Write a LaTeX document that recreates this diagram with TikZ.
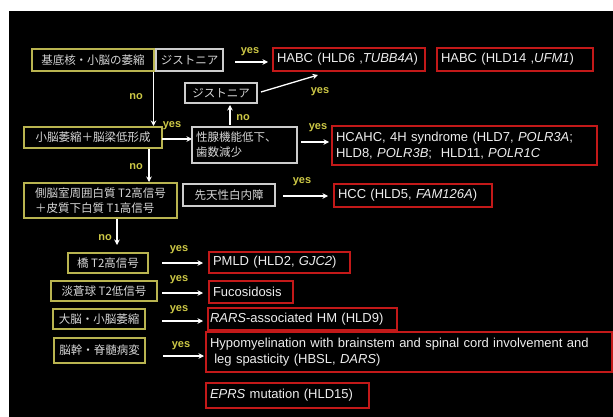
\documentclass[tikz,border=0pt]{standalone}
\usepackage{fontspec}
\setmainfont{Liberation Sans}
\newfontfamily\jp{Noto Sans CJK JP}
\usetikzlibrary{arrows.meta,calc}
\definecolor{yel}{RGB}{185,180,80}
\definecolor{gry}{RGB}{205,205,205}
\definecolor{rd}{RGB}{195,25,25}
\definecolor{lbl}{RGB}{205,200,70}
\definecolor{txt}{RGB}{238,238,238}
\definecolor{jtxt}{RGB}{215,215,215}
\begin{document}
\begin{tikzpicture}[x=1pt,y=-1pt,
  base/.style={draw, line width=1.4pt, anchor=north west, inner xsep=4pt, inner ysep=0pt, outer sep=0pt},
  ybox/.style={base, draw=yel, text=jtxt, font=\jp\fontsize{11.5}{15}\selectfont, align=center},
  gbox/.style={base, draw=gry, text=jtxt, font=\jp\fontsize{11.5}{15}\selectfont, align=center},
  rbox/.style={base, draw=rd, text=txt, font=\fontsize{13}{16.5}\selectfont, align=left, inner xsep=4pt},
  lab/.style={text=lbl, font=\bfseries\fontsize{11}{12}\selectfont, inner sep=0pt},
  arr/.style={draw=white, line width=1.3pt, -{Stealth[length=5.5pt,width=5.5pt]}}]
\useasboundingbox (0,0) rectangle (613,417);
\fill[white] (0,0) rectangle (613,417);
\fill[black] (9,11) rectangle (613,417);

% yellow condition boxes
\node[ybox, minimum width=122pt, minimum height=22pt] (b1) at (32,49) {基底核・小脳の萎縮};
\node[ybox, minimum width=138pt, minimum height=21pt] (b2) at (24,127) {小脳萎縮＋脳梁低形成};
\node[ybox, minimum width=153pt, minimum height=35pt, align=left] (b3) at (24,183) {側脳室周囲白質 T2高信号\\＋皮質下白質 T1高信号};
\node[ybox, minimum width=80pt, minimum height=20pt] (b4) at (68,253) {橋 T2高信号};
\node[ybox, minimum width=106pt, minimum height=20pt] (b5) at (51,281) {淡蒼球 T2低信号};
\node[ybox, minimum width=92pt, minimum height=20pt] (b6) at (53,309) {大脳・小脳萎縮};
\node[ybox, minimum width=91pt, minimum height=25pt] (b7) at (54,338) {脳幹・脊髄病変};

% gray boxes
\node[gbox, minimum width=67pt, minimum height=22pt] (g1) at (156,49) {ジストニア};
\node[gbox, minimum width=72pt, minimum height=20pt] (g2) at (185,83) {ジストニア};
\node[gbox, minimum width=105pt, minimum height=36pt, align=left, text width=97pt] (g3) at (192,127) {性腺機能低下、\\歯数減少};
\node[gbox, minimum width=92pt, minimum height=22pt] (g4) at (183,184) {先天性白内障};

% red result boxes
\node[rbox, text width=144pt, minimum height=23pt] (r1) at (273,48) {HABC (HLD6 ,\textit{TUBB4A})};
\node[rbox, text width=148pt, minimum height=23pt] (r2) at (437,48) {HABC (HLD14 ,\textit{UFM1})};
\node[rbox, text width=257pt, minimum height=39pt] (r3) at (332,126) {HCAHC, 4H syndrome (HLD7, \textit{POLR3A};\\HLD8, \textit{POLR3B};\ \ HLD11, \textit{POLR1C}};
\node[rbox, text width=150pt, minimum height=23pt] (r4) at (334,184) {HCC (HLD5, \textit{FAM126A})};
\node[rbox, text width=133pt, minimum height=21pt] (r5) at (209,252) {PMLD (HLD2, \textit{GJC2})};
\node[rbox, text width=76pt, minimum height=22pt] (r6) at (209,281) {Fucosidosis};
\node[rbox, text width=185pt, minimum height=22pt, inner xsep=2pt] (r7) at (208,308) {\textit{RARS}-associated HM (HLD9)};
\node[rbox, text width=398pt, minimum height=40pt] (r8) at (206,332) {Hypomyelination with brainstem and spinal cord involvement and\\\ leg spasticity (HBSL, \textit{DARS})};
\node[rbox, text width=155pt, minimum height=25pt] (r9) at (206,383) {\textit{EPRS} mutation (HLD15)};

% free connector ends
\coordinate (a1s) at (235,62);   \coordinate (a1e) at (268,62);
\coordinate (a2s) at (261,92);   \coordinate (a2e) at (318,75);
\coordinate (a3x) at (230,0);
\coordinate (a4x) at (153.5,0);
\coordinate (a6s) at (301,142);  \coordinate (a6e) at (329,142);
\coordinate (a7x) at (149,0);
\coordinate (a8s) at (283,196);  \coordinate (a8e) at (328,196);
\coordinate (a9x) at (117,0);    \coordinate (a9e) at (117,245);
\coordinate (a10s) at (162,263); \coordinate (a10e) at (203,263);
\coordinate (a11s) at (162,293); \coordinate (a11e) at (203,293);
\coordinate (a12s) at (162,321); \coordinate (a12e) at (203,321);
\coordinate (a13s) at (163,356); \coordinate (a13e) at (204,356);

% connectors
\draw[arr] (a1s) -- (a1e);
\draw[arr] (a2s) -- (a2e);
\draw[arr] ([yshift=2pt]g3.north -| a3x) -- ([yshift=-2pt]g2.south -| a3x);
\draw[arr] ([yshift=-1pt]b1.south -| a4x) -- ([yshift=1pt]b2.north -| a4x);
\draw[arr] ([yshift=-1.5pt]b2.east) -- ([yshift=-1.5pt]b2.east -| g3.west);
\draw[arr] (a6s) -- (a6e);
\draw[arr] ([yshift=-1pt]b2.south -| a7x) -- ([yshift=1pt]b3.north -| a7x);
\draw[arr] (a8s) -- (a8e);
\draw[arr] ([yshift=-1pt]b3.south -| a9x) -- (a9e);
\draw[arr] (a10s) -- (a10e);
\draw[arr] (a11s) -- (a11e);
\draw[arr] (a12s) -- (a12e);
\draw[arr] (a13s) -- (a13e);

% labels
\node[lab] (y1) at (250,52) {yes};
\node[lab] (y2) at (320,92) {yes};
\node[lab] (y3) at (172,126) {yes};
\node[lab] (y4) at (318,128) {yes};
\node[lab] (y5) at (302,182) {yes};
\node[lab] (y6) at (179,250) {yes};
\node[lab] (y7) at (179,280) {yes};
\node[lab] (y8) at (179,310) {yes};
\node[lab] (y9) at (181,346) {yes};
\node[lab] (n1) at (136,97) {no};
\node[lab] (n2) at (243,118) {no};
\node[lab] (n3) at (136,167) {no};
\node[lab] (n4) at (105,238) {no};
\end{tikzpicture}
\end{document}
